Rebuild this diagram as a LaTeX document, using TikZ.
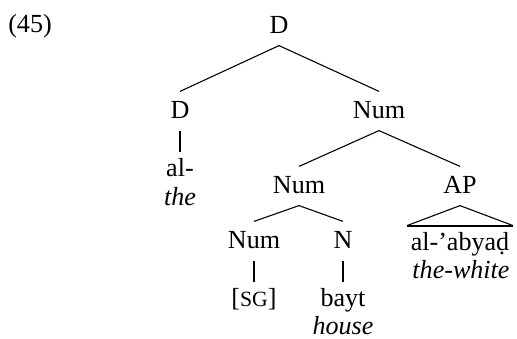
\documentclass[tikz,border=0pt,12pt]{standalone}
\usepackage{fontspec}
\setmainfont{Liberation Serif}

\begin{document}
\begin{tikzpicture}[
    x=0.46pt, y=-0.46pt,
    cat/.style={text height=1.5ex, text depth=.25ex, inner sep=4pt},
    leaf/.style={text height=1.5ex, text depth=.25ex, inner ysep=3pt, inner xsep=1.5pt},
    gloss/.style={leaf, font=\itshape},
    branch/.style={line width=0.5pt},
    bar/.style={line width=0.9pt}
]
\useasboundingbox (0,0) rectangle (517,338);

% Example number
\node (exNum) at (30,26) {(45)};

% Categories
\node[cat] (dTop) at (279,26) {D};
\node[cat] (dLeft) at (180,111) {D};
\node[cat] (numTop) at (379,111) {Num};
\node[cat] (numMid) at (299,186) {Num};
\node[cat] (apNode) at (460,186) {AP};
\node[cat] (numLow) at (254,241) {Num};
\node[cat] (nNode) at (343,241) {N};

% Words and glosses
\node[leaf] (alWord) at (180,169) {al-};
\node[gloss] (theGloss) at (180,198) {the};
\node[leaf] (sgWord) at (254,299) {[{\fontsize{10}{12}\selectfont SG}]};
\node[leaf] (baytWord) at (343,299) {bayt};
\node[gloss] (houseGloss) at (343,327) {house};
\node[leaf] (abyadWord) at (460,243) {al-’abyaḍ};
\node[gloss] (whiteGloss) at (461,271) {the-white};

% Branches
\draw[branch] (dTop.south) -- (dLeft.north);
\draw[branch] (dTop.south) -- (numTop.north);
\draw[branch] (numTop.south) -- (numMid.north);
\draw[branch] (numTop.south) -- (apNode.north);
\draw[branch] (numMid.south) -- (numLow.north);
\draw[branch] (numMid.south) -- (nNode.north);

% Unary bars
\draw[bar] (dLeft.south) -- (alWord.north);
\draw[bar] (numLow.south) -- (sgWord.north);
\draw[bar] (nNode.south) -- (baytWord.north);

% Triangle over the AP
\draw[branch] (abyadWord.north west) -- (apNode.south) -- (abyadWord.north east);
\draw[bar] (abyadWord.north west) -- (abyadWord.north east);

\end{tikzpicture}
\end{document}
